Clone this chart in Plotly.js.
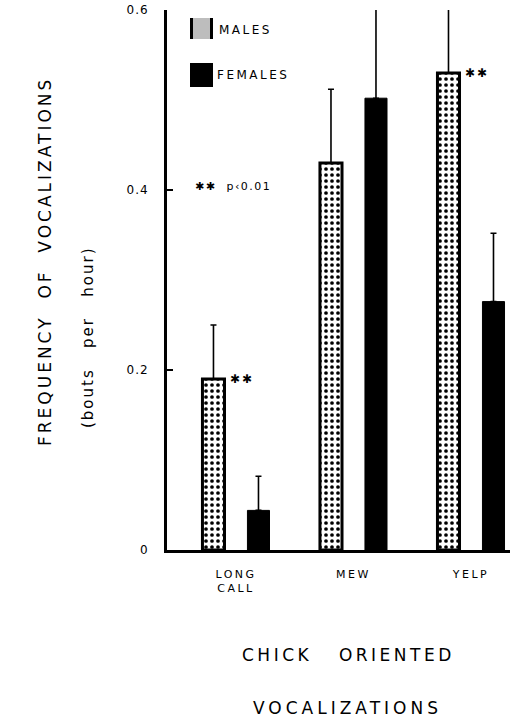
<!DOCTYPE html>
<html>
<head>
<meta charset="utf-8">
<script src="https://cdn.plot.ly/plotly-3.0.1.min.js"></script>
<style>
html,body{margin:0;padding:0;background:#fff;}
#chart{width:510px;height:722px;}
#chart .xtick text {letter-spacing: 2.5px;}
#chart .ytick text {letter-spacing: 1px;}
</style>
</head>
<body>
<div id="chart"></div>
<script>
// ---- data ----
const categories = ["LONG<br>CALL", "MEW", "YELP"];
const maleValues = [0.19, 0.43, 0.53];
const maleErrors = [0.06, 0.082, 0.08];
const femaleValues = [0.044, 0.502, 0.276];
const femaleErrors = [0.038, 0.11, 0.076];
const yTickVals = [0, 0.2, 0.4, 0.6];
const yTickText = ["0", "0.2", "0.4", "0.6"];
const seriesNames = ["MALES", "FEMALES"];
const sigLabel = "✱✱";
const sigNote = "✱✱  p‹0.01";

const FONT = "DejaVu Sans, sans-serif";

const males = {
  type: "bar", name: seriesNames[0], x: categories, y: maleValues,
  marker: {
    color: "#ffffff",
    line: {color: "#000", width: 3},
    pattern: {shape: ".", fgcolor: "#000", bgcolor: "#fff", size: 6, solidity: 0.3}
  },
  error_y: {type: "data", symmetric: false, array: maleErrors, arrayminus: [0,0,0],
            color: "#000", thickness: 1.6, width: 3},
  showlegend: false
};
const females = {
  type: "bar", name: seriesNames[1], x: categories, y: femaleValues,
  marker: {color: "#000", line: {color: "#000", width: 1}},
  error_y: {type: "data", symmetric: false, array: femaleErrors, arrayminus: [0,0,0],
            color: "#000", thickness: 1.6, width: 3},
  showlegend: false
};

// helpers: pixel -> paper for fixed annotations / legend
const L = 167, R = 0, T = 10, B = 172, W = 510, H = 722;
const pw = W - L - R, ph = H - T - B;
const px = v => (v - L) / pw;
const py = v => (H - B - v) / ph;
const sp = (s, n) => '<span style="letter-spacing:' + n + 'px">' + s + '</span>';

const layout = {
  width: W, height: H,
  margin: {l: L, r: R, t: T, b: B, pad: 0},
  paper_bgcolor: "#fff", plot_bgcolor: "#fff",
  font: {family: FONT, color: "#000", size: 11},
  barmode: "group", bargap: 0.234, bargroupgap: 0.51,
  showlegend: false,
  xaxis: {
    type: "category", range: [-0.587, 2.332],
    showline: true, linecolor: "#000", linewidth: 2.5,
    ticks: "", showgrid: false, zeroline: false,
    tickfont: {family: FONT, size: 11},
    ticklabelstandoff: 12
  },
  yaxis: {
    range: [0, 0.6], tickvals: yTickVals, ticktext: yTickText,
    showline: true, linecolor: "#000", linewidth: 3,
    ticks: "inside", ticklen: 6, tickwidth: 2, tickcolor: "#000",
    showgrid: false, zeroline: false,
    tickfont: {family: FONT, size: 12},
    ticklabelstandoff: 13
  },
  shapes: [
    // male swatch
    {type: "rect", xref: "paper", yref: "paper", x0: px(190), x1: px(213), y0: py(39), y1: py(18),
     fillcolor: "#bdbdbd", line: {width: 0}},
    {type: "line", xref: "paper", yref: "paper", x0: px(191.5), x1: px(191.5), y0: py(39), y1: py(18),
     line: {color: "#000", width: 3}},
    {type: "line", xref: "paper", yref: "paper", x0: px(211.5), x1: px(211.5), y0: py(39), y1: py(18),
     line: {color: "#000", width: 3}},
    // female swatch
    {type: "rect", xref: "paper", yref: "paper", x0: px(190), x1: px(213), y0: py(87), y1: py(63),
     fillcolor: "#000", line: {width: 0}}
  ],
  annotations: [
    {xref: "paper", yref: "paper", x: px(245), y: py(30), xanchor: "center", yanchor: "middle",
     text: sp(seriesNames[0], 2.5), showarrow: false, font: {family: FONT, size: 12}},
    {xref: "paper", yref: "paper", x: px(253), y: py(75), xanchor: "center", yanchor: "middle",
     text: sp(seriesNames[1], 2.5), showarrow: false, font: {family: FONT, size: 12}},
    {xref: "paper", yref: "paper", x: px(233), y: py(187), xanchor: "center", yanchor: "middle",
     text: sp(sigNote, 1.5), showarrow: false, font: {family: FONT, size: 11}},
    {xref: "x", yref: "y", x: 0, y: maleValues[0], xanchor: "center", yanchor: "middle", xshift: 6,
     text: sp(sigLabel, 2), showarrow: false, font: {family: FONT, size: 12}},
    {xref: "x", yref: "y", x: 2, y: maleValues[2], xanchor: "center", yanchor: "middle", xshift: 6,
     text: sp(sigLabel, 2), showarrow: false, font: {family: FONT, size: 12}},
    // y titles
    {xref: "paper", yref: "paper", x: px(45), y: py(262), xanchor: "center", yanchor: "middle",
     textangle: -90, text: sp("FREQUENCY  OF  VOCALIZATIONS", 3), showarrow: false,
     font: {family: FONT, size: 17}},
    {xref: "paper", yref: "paper", x: px(88), y: py(337), xanchor: "center", yanchor: "middle",
     textangle: -90, text: sp("(bouts   per   hour)", 2), showarrow: false,
     font: {family: FONT, size: 15}},
    // x titles
    {xref: "paper", yref: "paper", x: px(348), y: py(655), xanchor: "center", yanchor: "middle",
     text: sp("CHICK   ORIENTED", 3.5), showarrow: false, font: {family: FONT, size: 17}},
    {xref: "paper", yref: "paper", x: px(347), y: py(708), xanchor: "center", yanchor: "middle",
     text: sp("VOCALIZATIONS", 4), showarrow: false, font: {family: FONT, size: 17}}
  ]
};

Plotly.newPlot("chart", [males, females], layout, {staticPlot: true, displayModeBar: false});
</script>
</body>
</html>
